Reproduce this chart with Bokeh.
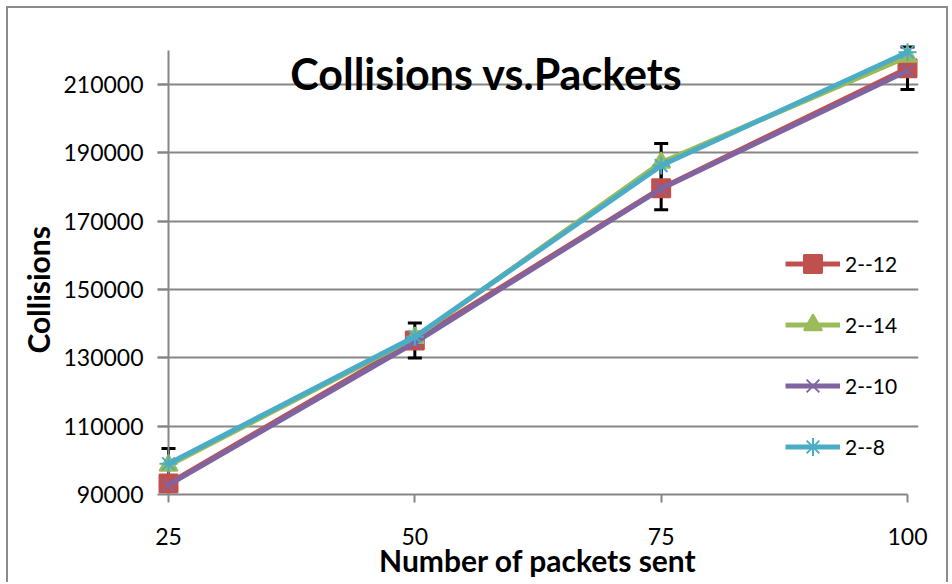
from bokeh.plotting import figure
from bokeh.models import (ColumnDataSource, Whisker, TeeHead, Legend, LegendItem,
                          Label, Title, FixedTicker, Range1d, InlineStyleSheet)
from bokeh.embed import file_html
from bokeh.resources import INLINE

# ---------------- data ----------------
packets = [25, 50, 75, 100]
x_tick_labels = ["25", "50", "75", "100"]
s_2_12 = [93200, 135100, 179700, 214800]
s_2_14 = [98500, 135900, 187200, 218200]
s_2_10 = [92800, 134500, 179500, 214100]
s_2_8 = [99000, 136200, 186300, 219500]
err_2_12 = [None, 5100, 6300, 6200]
err_2_14 = [5000, None, 5600, None]
y_ticks = [90000, 110000, 130000, 150000, 170000, 190000, 210000]
y_tick_labels = ["90000", "110000", "130000", "150000", "170000", "190000", "210000"]
y_min, y_max = 90000, 220000
series_names = ["2--12", "2--14", "2--10", "2--8"]

# ---------------- style ----------------
FONT = "Lato"
GRAY = "#868686"
C_RED, C_GREEN, C_PURPLE, C_CYAN = "#C0504D", "#9BBB59", "#8064A2", "#4BACC6"

FRAME_W, FRAME_H = 761, 454
BORDER_L, BORDER_R, BORDER_T, BORDER_B = 157, 32, 40, 88
pad_x_px, pad_y_px = 11, 10
px_per_x = (FRAME_W - 2 * pad_x_px) / float(packets[-1] - packets[0])
px_per_y = (FRAME_H - pad_y_px) / float(y_max - y_min)
x_pad = pad_x_px / px_per_x
y_pad = pad_y_px / px_per_y

p = figure(frame_width=FRAME_W, frame_height=FRAME_H, output_backend="svg",
           toolbar_location=None,
           x_range=Range1d(packets[0] - x_pad, packets[-1] + x_pad),
           y_range=Range1d(y_min, y_max + y_pad),
           min_border_left=BORDER_L, min_border_right=BORDER_R,
           min_border_top=BORDER_T, min_border_bottom=BORDER_B)
p.outline_line_color = None
p.background_fill_color = "white"
p.border_fill_color = "white"
p.stylesheets = [InlineStyleSheet(css="""
:host { position: relative; }
:host::after { content: ''; position: absolute; left: 6px; top: 6px; width: 942px;
  height: calc(100% - 6px); border: 2px solid #8c8c8c; border-bottom: none;
  box-sizing: border-box; pointer-events: none; }
""")]

# axes
p.xaxis.ticker = FixedTicker(ticks=packets)
p.xaxis.major_label_overrides = {v: t for v, t in zip(packets, x_tick_labels)}
p.xaxis.bounds = (packets[0], packets[-1])
p.xaxis.axis_line_color = GRAY
p.xaxis.axis_line_width = 2
p.xaxis.major_tick_line_color = GRAY
p.xaxis.major_tick_line_width = 2
p.xaxis.major_tick_out = 8
p.xaxis.major_tick_in = 0
p.xaxis.minor_tick_line_color = None
p.xaxis.major_label_standoff = 25
p.xaxis.major_label_text_font = FONT
p.xaxis.major_label_text_font_size = "23px"
p.xaxis.major_label_text_color = "black"
p.xaxis.axis_label = "Number of packets sent"
p.xaxis.axis_label_text_font = FONT
p.xaxis.axis_label_text_font_size = "30px"
p.xaxis.axis_label_text_font_style = "bold"
p.xaxis.axis_label_text_color = "black"
p.xaxis.axis_label_standoff = -6

p.yaxis.ticker = FixedTicker(ticks=y_ticks)
p.yaxis.major_label_overrides = {v: t for v, t in zip(y_ticks, y_tick_labels)}
p.yaxis.axis_line_color = None
p.yaxis.major_tick_line_color = GRAY
p.yaxis.major_tick_line_width = 2
p.yaxis.major_tick_in = pad_x_px
p.yaxis.major_tick_out = 0
p.yaxis.minor_tick_line_color = None
p.yaxis.major_label_standoff = 14
p.yaxis.major_label_text_font = FONT
p.yaxis.major_label_text_font_size = "23px"
p.yaxis.major_label_text_color = "black"

p.xgrid.visible = False
p.ygrid.ticker = FixedTicker(ticks=y_ticks)
p.ygrid.bounds = (packets[0], packets[-1])
p.ygrid.grid_line_color = GRAY
p.ygrid.grid_line_width = 2

# y axis line at first category
p.segment(x0=[packets[0]], y0=[y_min], x1=[packets[0]], y1=[y_max],
          line_color=GRAY, line_width=2)

# error bars
def whisker_source(vals, errs):
    xs, up, lo = [], [], []
    for x, v, e in zip(packets, vals, errs):
        if e is not None:
            xs.append(x); up.append(v + e); lo.append(v - e)
    return ColumnDataSource(dict(x=xs, upper=up, lower=lo))

for vals, errs in [(s_2_12, err_2_12), (s_2_14, err_2_14)]:
    w = Whisker(source=whisker_source(vals, errs), base="x", upper="upper", lower="lower",
                line_color="black", line_width=3, level="underlay",
                upper_head=TeeHead(size=14, line_width=3, line_color="black"),
                lower_head=TeeHead(size=14, line_width=3, line_color="black"))
    p.add_layout(w)

# series
items = []
specs = [
    (s_2_12, C_RED, "square", 18, True),
    (s_2_14, C_GREEN, "triangle", 18, True),
    (s_2_10, C_PURPLE, "x", 17, False),
    (s_2_8, C_CYAN, "asterisk", 18, False),
]
for name, (vals, col, mk, sz, filled) in zip(series_names, specs):
    src = ColumnDataSource(dict(x=packets, y=vals))
    ln = p.line("x", "y", source=src, line_color=col, line_width=5)
    sc = p.scatter("x", "y", source=src, marker=mk, size=sz, line_color=col,
                   fill_color=col if filled else None, line_width=2)
    items.append(LegendItem(label=name, renderers=[ln, sc]))

legend = Legend(items=items, location=(628, 25), orientation="vertical",
                glyph_width=55, glyph_height=45, label_height=45, spacing=16,
                padding=0, margin=0, label_standoff=5,
                label_text_font=FONT, label_text_font_size="21px",
                label_text_color="black", label_text_baseline="middle",
                background_fill_alpha=0, border_line_alpha=0)
p.add_layout(legend, "center")

# chart title (overlaps the plot area as in the original)
p.add_layout(Label(x=329, y=421, x_units="screen", y_units="screen",
                   text="Collisions vs.Packets", text_font=FONT,
                   text_font_size="43px", text_font_style="bold",
                   text_align="center", text_baseline="alphabetic", text_color="black"))

# y axis title
p.add_layout(Title(text="Collisions", align="left", offset=141, text_font=FONT,
                   text_font_size="30px", text_font_style="bold", text_color="black"),
             "left")

open("out.html", "w").write(file_html(p, INLINE))
